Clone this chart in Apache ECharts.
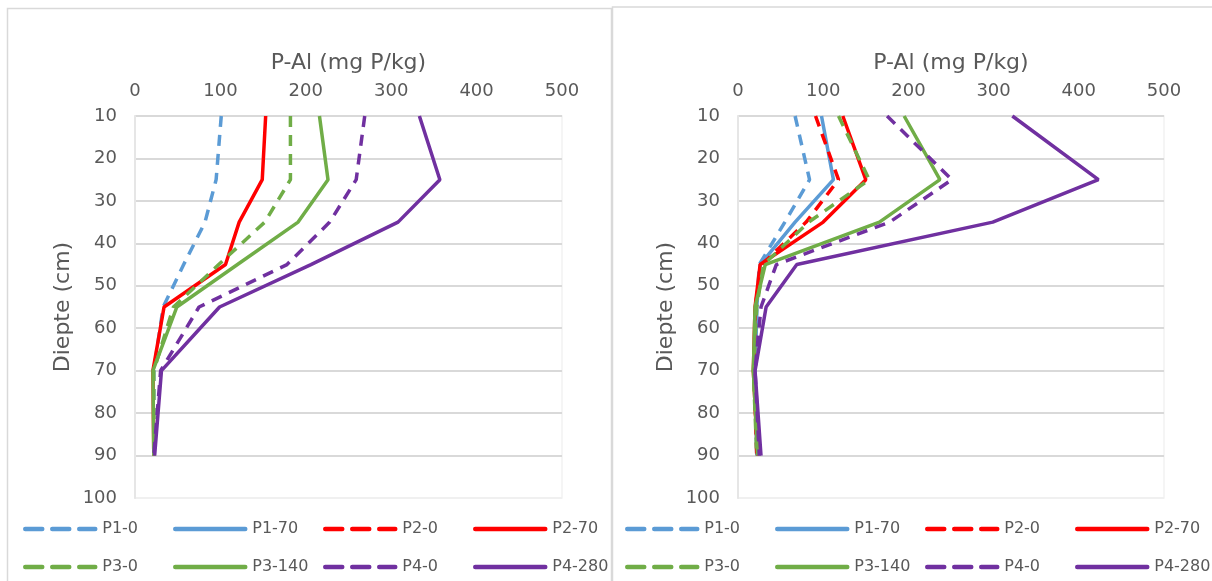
<!DOCTYPE html>
<html>
<head>
<meta charset="utf-8">
<script src="https://cdn.jsdelivr.net/npm/echarts@6/dist/echarts.min.js"></script>
<style>
html,body{margin:0;padding:0;background:#fff;}
#c{width:1212px;height:581px;}
</style>
</head>
<body>
<div id="c"></div>
<script>
// ---- data ----
const depths = [10, 25, 35, 45, 55, 70, 90];
const seriesNames = ['P1-0', 'P1-70', 'P2-0', 'P2-70', 'P3-0', 'P3-140', 'P4-0', 'P4-280'];
const xTicks = [0, 100, 200, 300, 400, 500];
const yTicks = [10, 20, 30, 40, 50, 60, 70, 80, 90, 100];

// left chart
const leftP1_0   = [101, 95, 82, 57, 33, 22, 22];
const leftP1_70  = [];
const leftP2_0   = [];
const leftP2_70  = [153, 149, 122, 106, 34, 21, 22];
const leftP3_0   = [182, 182, 152, 98, 45, 22, 22];
const leftP3_140 = [216, 226, 191, 120, 49, 21, 22];
const leftP4_0   = [269, 259, 228, 178, 75, 30, 22];
const leftP4_280 = [333, 357, 308, 206, 99, 31, 23];

// right chart
const rightP1_0   = [67, 84, 55, 25, 22, 20, 22];
const rightP1_70  = [98, 112, 67, 26, 22, 20, 22];
const rightP2_0   = [91, 118, 80, 28, 20, 19, 22];
const rightP2_70  = [123, 150, 100, 26, 20, 18, 23];
const rightP3_0   = [118, 154, 83, 30, 22, 18, 22];
const rightP3_140 = [195, 237, 166, 32, 20, 18, 23];
const rightP4_0   = [175, 251, 178, 45, 27, 20, 25];
const rightP4_280 = [322, 423, 299, 69, 33, 20, 27];

const leftData  = [leftP1_0, leftP1_70, leftP2_0, leftP2_70, leftP3_0, leftP3_140, leftP4_0, leftP4_280];
const rightData = [rightP1_0, rightP1_70, rightP2_0, rightP2_70, rightP3_0, rightP3_140, rightP4_0, rightP4_280];

// ---- styles ----
const colors = ['#5B9BD5', '#5B9BD5', '#FF0000', '#FF0000', '#70AD47', '#70AD47', '#7030A0', '#7030A0'];
const dashed = [true, false, true, false, true, false, true, false];
const FONT = 'DejaVu Sans';
const TXT = '#595959';

const chart = echarts.init(document.getElementById('c'), null, {renderer: 'canvas'});

const gridDefs = [
  {left: 135, top: 116, width: 427, height: 382},
  {left: 738, top: 116, width: 426, height: 382}
];

function mkX(i) {
  return {
    gridIndex: i, type: 'value', position: 'top', min: 0, max: 500, interval: 100,
    name: 'P-Al (mg P/kg)', nameLocation: 'middle', nameGap: 42,
    nameTextStyle: {fontFamily: FONT, fontSize: 22, color: TXT},
    axisLine: {show: false}, axisTick: {show: false}, splitLine: {show: false},
    axisLabel: {fontFamily: FONT, fontSize: 18, color: TXT, margin: 16,
      formatter: v => xTicks.includes(v) ? String(v) : ''}
  };
}
function mkY(i) {
  const gridColors = yTicks.map((t, k) => k === yTicks.length - 1 ? '#f0f0f0' : '#d9d9d9');
  return {
    gridIndex: i, type: 'value', inverse: true, min: 10, max: 100, interval: 10,
    name: 'Diepte (cm)', nameLocation: 'middle', nameGap: 61, nameRotate: 90,
    nameTextStyle: {fontFamily: FONT, fontSize: 22, color: TXT},
    axisLine: {show: true, lineStyle: {color: '#e6e6e6', width: 2}},
    axisTick: {show: false},
    splitLine: {show: true, lineStyle: {color: gridColors, width: 2}},
    axisLabel: {fontFamily: FONT, fontSize: 18, color: TXT, margin: 18,
      formatter: v => yTicks.includes(v) ? String(v) : ''}
  };
}

const series = [];
[leftData, rightData].forEach((set, gi) => {
  set.forEach((vals, si) => {
    series.push({
      name: seriesNames[si], type: 'line', xAxisIndex: gi, yAxisIndex: gi,
      symbol: 'none', showSymbol: false, animation: false,
      lineStyle: {color: colors[si], width: 3.5, type: dashed[si] ? [11, 8] : 'solid'},
      itemStyle: {color: colors[si]},
      data: vals.map((v, k) => [v, depths[k]])
    });
  });
});

// one legend per entry, 4 per row, 2 rows per panel
const legendCols = [0, 150, 300, 450];
const legendRows = [516, 554];
const panelLeft = [18, 620];
const legends = [];
panelLeft.forEach(pl => {
  seriesNames.forEach((n, si) => {
    legends.push({
      show: true,
      left: pl + legendCols[si % 4], top: legendRows[Math.floor(si / 4)],
      orient: 'horizontal', itemGap: 0, itemWidth: 70, itemHeight: 14,
      textStyle: {fontFamily: FONT, fontSize: 16, color: TXT, padding: [0, 0, 0, 2]},
      selectedMode: false,
      itemStyle: {opacity: 0, borderWidth: 0},
      lineStyle: {width: 4.5, type: dashed[si] ? [17, 10] : 'solid', cap: 'round'},
      data: [n]
    });
  });
});

chart.setOption({
  backgroundColor: '#ffffff',
  animation: false,
  grid: gridDefs.map(g => Object.assign({show: true, borderColor: '#f2f2f2', borderWidth: 1.5, containLabel: false}, g)),
  xAxis: [mkX(0), mkX(1)],
  yAxis: [mkY(0), mkY(1)],
  legend: legends,
  graphic: [
    {type: 'rect', shape: {x: 7.5, y: 8.5, width: 604, height: 600}, style: {fill: 'none', stroke: '#d9d9d9', lineWidth: 1.5}, z: -10},
    {type: 'rect', shape: {x: 612.5, y: 7, width: 620, height: 600}, style: {fill: 'none', stroke: '#d9d9d9', lineWidth: 1.5}, z: -10}
  ],
  series: series
});
</script>
</body>
</html>
